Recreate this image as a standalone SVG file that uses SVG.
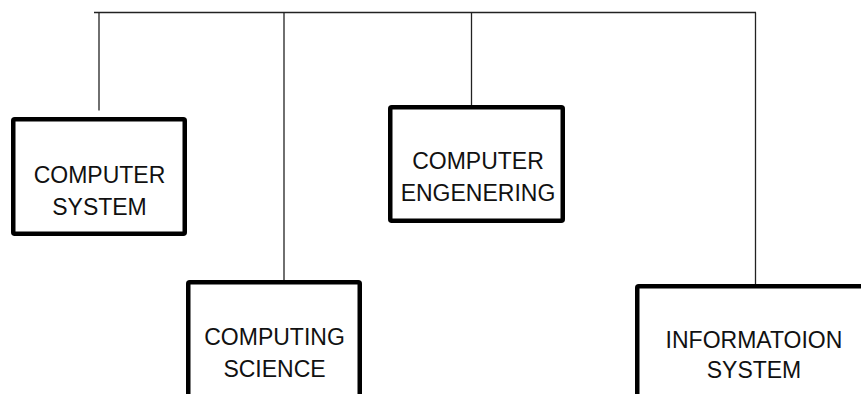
<svg xmlns="http://www.w3.org/2000/svg" width="861" height="394" viewBox="0 0 861 394">
  <style>
    .box { fill: #ffffff; stroke: #000000; stroke-width: 4.5; stroke-linejoin: round; }
    .wire { fill: none; stroke: #222222; stroke-width: 1.3; }
    .label { font-family: "Liberation Sans", Arial, sans-serif; font-size: 23px; fill: #111111; text-anchor: middle; }
  </style>
  <rect x="0" y="0" width="861" height="394" fill="#ffffff"/>

  <!-- connectors: top bus and drops to each box -->
  <g id="connectors">
    <path class="wire" d="M94,12.5 H756"/>
    <path class="wire" d="M99,12.5 V110.5"/>
    <path class="wire" d="M284,12.5 V280"/>
    <path class="wire" d="M471.5,12.5 V105"/>
    <path class="wire" d="M755.5,12.5 V284"/>
  </g>

  <g id="computer-system">
    <rect class="box" x="13.25" y="119.25" width="171.5" height="114.5" rx="1.5"/>
    <text class="label" x="99.5" y="183">COMPUTER</text>
    <text class="label" x="99.5" y="215">SYSTEM</text>
  </g>

  <g id="computer-engenering">
    <rect class="box" x="390.25" y="107.25" width="172.5" height="113.5" rx="1.5"/>
    <text class="label" x="478" y="168.5">COMPUTER</text>
    <text class="label" x="478" y="201">ENGENERING</text>
  </g>

  <g id="computing-science">
    <rect class="box" x="188.25" y="282.25" width="171.5" height="140" rx="1.5"/>
    <text class="label" x="274.5" y="345">COMPUTING</text>
    <text class="label" x="274.5" y="377">SCIENCE</text>
  </g>

  <g id="informatoion-system">
    <rect class="box" x="637.25" y="286.25" width="238" height="140" rx="1.5"/>
    <text class="label" x="754" y="348">INFORMATOION</text>
    <text class="label" x="754" y="378">SYSTEM</text>
  </g>
</svg>
